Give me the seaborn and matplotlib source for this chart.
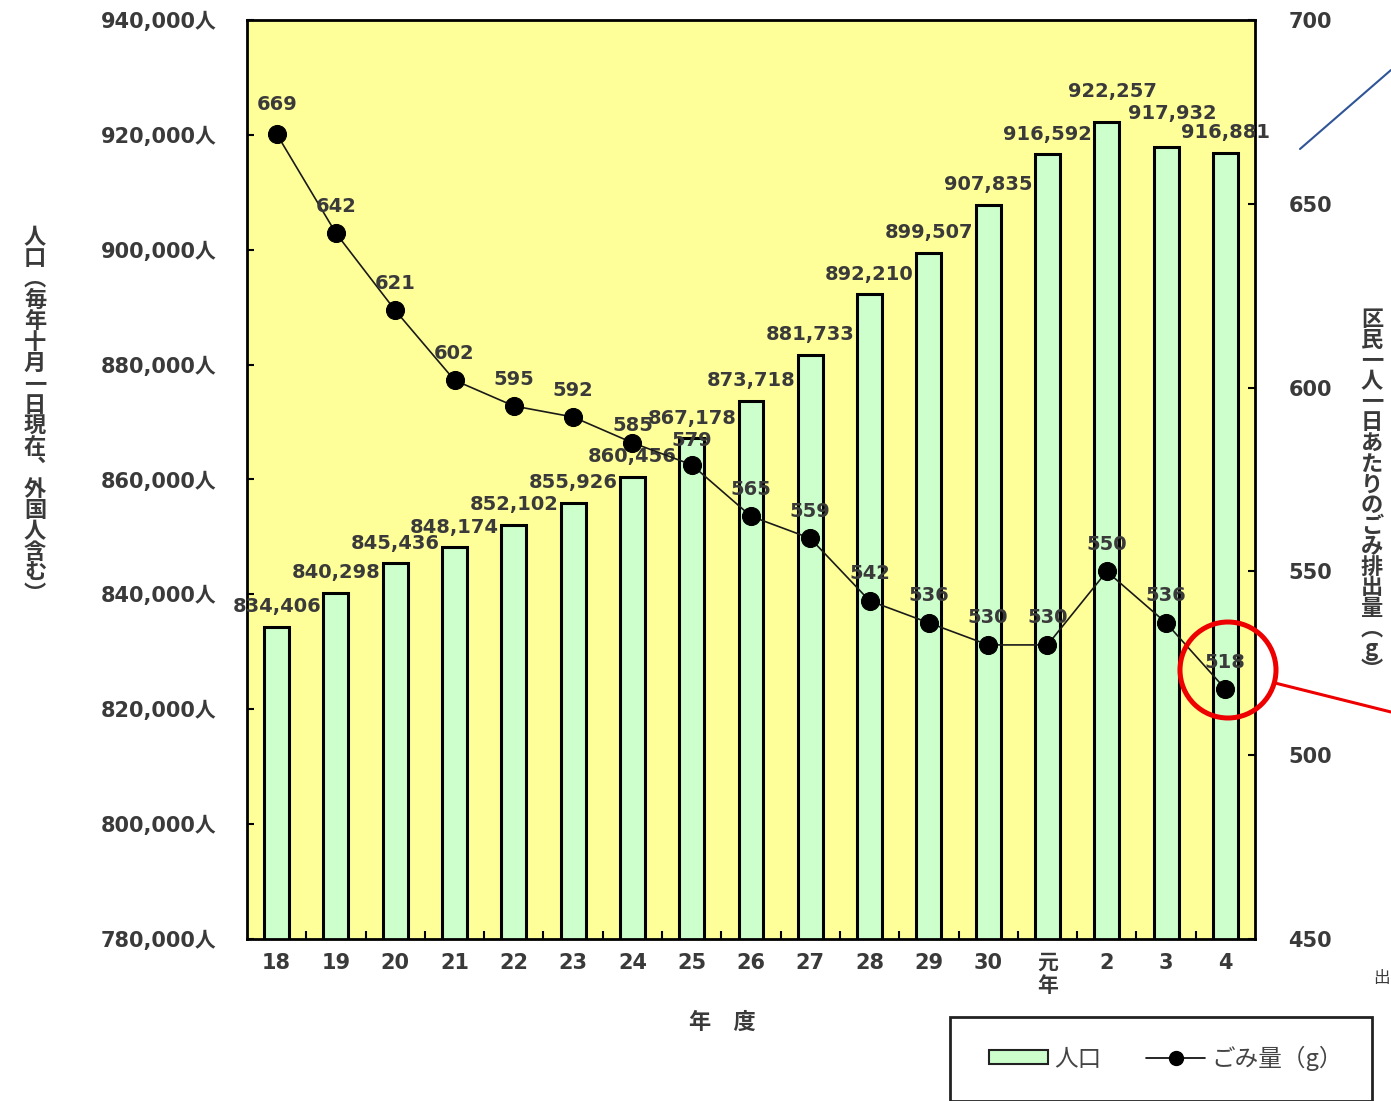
import numpy as np
import pandas as pd
import matplotlib
matplotlib.use("Agg")
import matplotlib.pyplot as plt
from matplotlib.patches import Rectangle, Ellipse, Patch
from matplotlib.lines import Line2D
import seaborn as sns

# 年度 (平成18年度〜令和4年度)
years = ["18", "19", "20", "21", "22", "23", "24", "25", "26", "27",
         "28", "29", "30", "元\n年", "2", "3", "4"]
# 人口 (毎年十月一日現在、外国人含む)
population = [834406, 840298, 845436, 848174, 852102, 855926, 860456, 867178,
              873718, 881733, 892210, 899507, 907835, 916592, 922257, 917932,
              916881]
# 区民一人一日あたりのごみ排出量 (g)
waste_g = [669, 642, 621, 602, 595, 592, 585, 579, 565, 559, 542, 536, 530,
           530, 550, 536, 518]
pop_ticks = list(range(780000, 940001, 20000))
waste_ticks = list(range(450, 701, 50))

# label offsets (points above the bar top / marker)
pop_label_dy = [14.4] * 17
pop_label_dy[14] = 21.6
pop_label_dy[15] = 23.8
pop_label_dx = [0] * 17
pop_label_dx[14] = 4.3
pop_label_dx[15] = 4.3
waste_label_dy = [19.4] * 17
waste_label_dy[0] = 20.9
waste_label_dy[6] = 12.2
waste_label_dy[7] = 17.3

sns.set_theme(style="white")
plt.rcParams["font.family"] = ["DejaVu Sans", "Noto Sans CJK JP"]
TXT = "#3a3a3a"
plt.rcParams["text.color"] = TXT

W, H = 1391, 1101
fig = plt.figure(figsize=(W / 100, H / 100), dpi=100)
fig.patch.set_facecolor("white")


def fx(px):
    return px / W


def fy(py):
    return 1 - py / H


ax = fig.add_axes([fx(247), fy(939), fx(1255) - fx(247), fy(20) - fy(939)])
ax.set_facecolor("#ffff99")

df = pd.DataFrame({"年度": years, "人口": population, "ごみ量": waste_g})

sns.barplot(data=df, x="年度", y="人口", order=years, color="#ccffcc",
            saturation=1, edgecolor="black", linewidth=2.2, width=0.42, ax=ax)
ax.set_ylim(780000, 940000)
ax.set_xlim(-0.5, len(years) - 0.5)
ax.set_yticks(pop_ticks, [f"{v:,}人" for v in pop_ticks])
ax.set_xticks(range(len(years)), years)
ax.set_xticks(np.arange(0.5, len(years) - 1, 1), minor=True)
ax.set_xlabel("")
ax.set_ylabel("")
ax.tick_params(axis="x", which="major", length=0, pad=10, labelsize=15,
               labelcolor=TXT)
ax.tick_params(axis="x", which="minor", direction="in", length=6, width=1.5,
               color="black", bottom=True)
ax.tick_params(axis="y", direction="in", length=5, width=1.5, color="black",
               left=True, pad=22, labelsize=15, labelcolor=TXT)
for lab in ax.get_xticklabels() + ax.get_yticklabels():
    lab.set_fontweight("bold")
for s in ax.spines.values():
    s.set_color("black")
    s.set_linewidth(2)

for i, v in enumerate(population):
    ax.annotate(f"{v:,}", xy=(i, v), xytext=(pop_label_dx[i], pop_label_dy[i]),
                textcoords="offset points", ha="center", va="center",
                fontsize=14, fontweight="bold", color=TXT)

ax2 = ax.twinx()
sns.lineplot(x=np.arange(len(years)), y=waste_g, ax=ax2, color="#1a1a1a",
             linewidth=1.2, marker="o", markersize=13, markeredgecolor="black",
             markerfacecolor="black")
ax2.set_ylim(450, 700)
ax2.set_yticks(waste_ticks, [str(v) for v in waste_ticks])
ax2.set_ylabel("")
ax2.tick_params(axis="y", direction="in", length=5, width=1.5, color="black",
                right=True, pad=24, labelsize=15, labelcolor=TXT)
for lab in ax2.get_yticklabels():
    lab.set_fontweight("bold")
for s in ax2.spines.values():
    s.set_visible(False)

for i, v in enumerate(waste_g):
    ax2.annotate(f"{v}", xy=(i, v), xytext=(0, waste_label_dy[i]),
                 textcoords="offset points", ha="center", va="center",
                 fontsize=14, fontweight="bold", color=TXT)

# axis titles (vertical Japanese text)
cjk = ["Noto Sans CJK JP", "DejaVu Sans"]
left_title = "人口︵毎年十月一日現在︑外国人含む︶"
right_title = "区民一人一日あたりのごみ排出量︵g︶"
fig.text(fx(35), fy(416), "\n".join(left_title), ha="center", va="center",
         fontsize=16, fontweight="bold", family=cjk, color=TXT,
         linespacing=0.89)
fig.text(fx(1372), fy(495), "\n".join(right_title), ha="center", va="center",
         fontsize=16, fontweight="bold", family=cjk, color=TXT,
         linespacing=0.87)
fig.text(fx(722), fy(1022), "年　度", ha="center", va="center", fontsize=16,
         fontweight="bold", family=cjk, color=TXT)

# legend
fig.add_artist(Rectangle((fx(950), fy(1101)), fx(1372) - fx(950),
                         fy(1017) - fy(1101), transform=fig.transFigure,
                         facecolor="white", edgecolor="#222222", linewidth=2))
handles = [Patch(facecolor="#ccffcc", edgecolor="#222222", linewidth=1.5),
           Line2D([0], [0], color="black", linewidth=1.2, marker="o",
                  markersize=10)]
fig.legend(handles, ["人口", "ごみ量（g）"], loc="center left",
           bbox_to_anchor=(fx(968), fy(1058)), ncol=2, frameon=False,
           handlelength=2.5, handleheight=0.55, handletextpad=0.25,
           columnspacing=1.9, prop={"family": cjk, "size": 17},
           labelcolor="#444444")

# highlight of the latest value
fig.add_artist(Ellipse((fx(1228), fy(670)), fx(96), 96 / H,
                       transform=fig.transFigure, fill=False,
                       edgecolor="#ee0000", linewidth=3.6))
fig.add_artist(Line2D([fx(1275), fx(1391)], [fy(683), fy(712)],
                      transform=fig.transFigure, color="#ee0000",
                      linewidth=2.2))
fig.add_artist(Line2D([fx(1300), fx(1391)], [fy(149), fy(70)],
                      transform=fig.transFigure, color="#2f5597",
                      linewidth=1.5))
fig.text(fx(1390), fy(978), "出", ha="right", va="center", fontsize=12,
         family=cjk, color=TXT)

fig.savefig("out.png", dpi=100)
